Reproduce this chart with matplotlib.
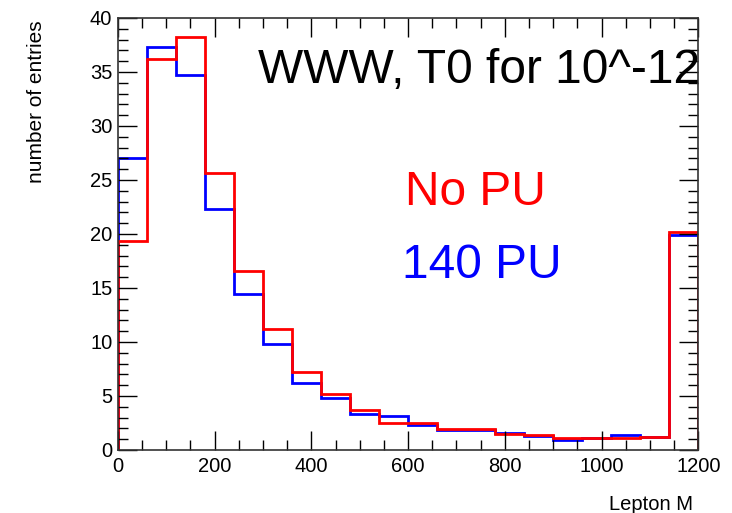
import matplotlib.pyplot as plt
import numpy as np

plt.rcParams['font.family'] = ['Liberation Sans', 'DejaVu Sans']

# bin edges: 20 bins of 60 from 0 to 1200
edges = np.arange(0, 1201, 60)

no_pu = [19.3, 36.2, 38.2, 25.6, 16.6, 11.2, 7.2, 5.2, 3.65, 2.5,
         2.45, 1.97, 1.9, 1.45, 1.4, 1.14, 1.08, 1.14, 1.23, 20.2]
pu140 = [27.0, 37.3, 34.75, 22.3, 14.4, 9.85, 6.2, 4.8, 3.3, 3.1,
         2.3, 1.82, 1.82, 1.55, 1.3, 0.93, 1.08, 1.36, 1.23, 19.9]

fig = plt.figure(figsize=(7.32, 5.13), dpi=100)
ax = fig.add_axes([0.161, 0.123, 0.793, 0.842])

ax.stairs(pu140, edges, color='blue', linewidth=2)
ax.stairs(no_pu, edges, color='red', linewidth=2)

ax.set_xlim(0, 1200)
ax.set_ylim(0, 40)
ax.set_xticks(np.arange(0, 1201, 200))
ax.set_xticks(np.arange(0, 1201, 50), minor=True)
ax.set_yticks(np.arange(0, 41, 5))
ax.set_yticks(np.arange(0, 41, 1), minor=True)
ax.tick_params(which='both', direction='in', top=True, right=True, labelsize=14.5)
ax.tick_params(which='major', length=14, width=1)
ax.tick_params(which='minor', length=7, width=1)
ax.tick_params(axis='x', pad=5)
ax.tick_params(axis='y', pad=4)
for s in ax.spines.values():
    s.set_linewidth(1.2)
    s.set_color('#333333')

# axis titles, ROOT style (aligned to axis ends)
ax.text(0.991, -0.139, 'Lepton M', transform=ax.transAxes,
        fontsize=14.5, ha='right', va='baseline')
ax.text(-0.141, 0.995, 'number of entries', transform=ax.transAxes,
        fontsize=15, rotation=90, ha='center', va='top')

ax.text(0.241, 0.850, 'WWW, T0 for 10^-12', transform=ax.transAxes,
        fontsize=34.5, ha='left', va='baseline')
ax.text(0.495, 0.567, 'No PU', transform=ax.transAxes,
        fontsize=34.5, color='red', ha='left', va='baseline')
ax.text(0.490, 0.398, '140 PU', transform=ax.transAxes,
        fontsize=34.5, color='blue', ha='left', va='baseline')

fig.savefig('out.png', dpi=100)
